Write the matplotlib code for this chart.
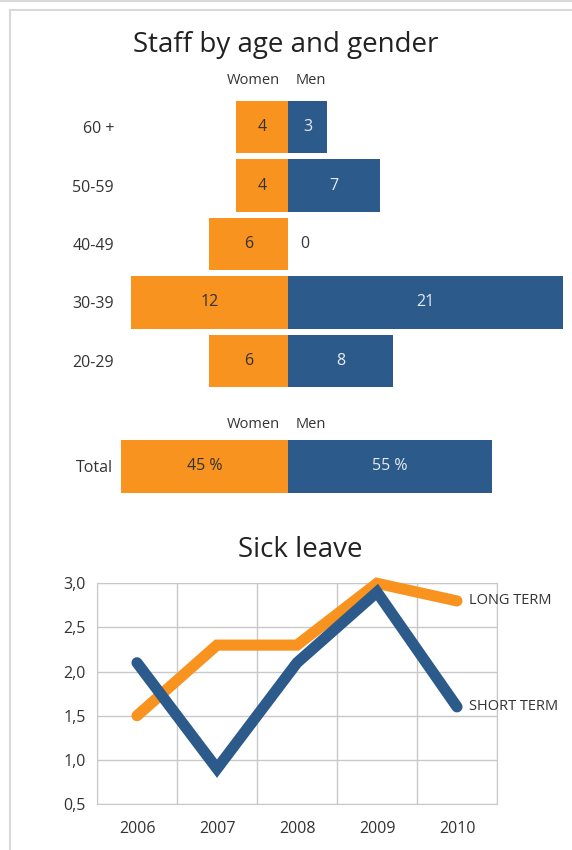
import matplotlib
matplotlib.use("Agg")
import matplotlib.pyplot as plt
from matplotlib.lines import Line2D
import numpy as np

plt.rcParams['font.family'] = ['Open Sans', 'DejaVu Sans']

# data
age_groups = ['20-29', '30-39', '40-49', '50-59', '60 +']
women = [6, 12, 6, 4, 4]
men = [8, 21, 0, 7, 3]
total_women = 45
total_men = 55

years = ['2006', '2007', '2008', '2009', '2010']
long_term = [1.5, 2.3, 2.3, 3.0, 2.8]
short_term = [2.1, 0.9, 2.1, 2.9, 1.6]

ORANGE = '#F7931E'
BLUE = '#2C5A8A'
DARK = '#333333'
GRID = '#C8C8C8'

W, H = 572, 850
fig = plt.figure(figsize=(W / 100, H / 100), dpi=100)


def px_rect(l, t, r, b):
    return [l / W, 1 - b / H, (r - l) / W, (b - t) / H]


def fig_line(x0, y0, x1, y1):
    fig.add_artist(Line2D([x0 / W, x1 / W], [1 - y0 / H, 1 - y1 / H],
                          transform=fig.transFigure, color='#D9D9D9', lw=1.5))


# frame lines
fig_line(0, 1, W, 1)
fig_line(9.5, 9.5, W, 9.5)
fig_line(9.5, 9.5, 9.5, H)

# --- pyramid ---
center = 288
scale = 13.1
ax1 = fig.add_axes(px_rect(121, 95, 572, 393))
ax1.set_xlim((121 - center) / scale, (572 - center) / scale)
ax1.set_ylim(-0.55, 4.55)
pos = np.arange(len(age_groups))
ax1.barh(pos, [-w for w in women], height=0.9, color=ORANGE)
ax1.barh(pos, men, height=0.9, color=BLUE)
for p, w, m in zip(pos, women, men):
    ax1.text(-w / 2, p, str(w), ha='center', va='center', fontsize=11.5, color=DARK)
    if m > 0:
        ax1.text(m / 2, p, str(m), ha='center', va='center', fontsize=11.5, color='#E6ECF3')
    else:
        ax1.text(1.3, p, str(m), ha='center', va='center', fontsize=11.5, color=DARK)
ax1.set_yticks(pos)
ax1.set_yticklabels(age_groups, fontsize=11.5, color=DARK)
ax1.tick_params(axis='y', length=0, pad=5)
ax1.set_xticks([])
for s in ax1.spines.values():
    s.set_visible(False)

# --- total ---
tscale = 3.71
ax2 = fig.add_axes(px_rect(121, 436, 572, 497))
ax2.set_xlim((121 - center) / tscale, (572 - center) / tscale)
ax2.set_ylim(-0.58, 0.58)
ax2.barh([0], [-total_women], height=1.0, color=ORANGE)
ax2.barh([0], [total_men], height=1.0, color=BLUE)
ax2.text(-total_women / 2, 0, f'{total_women} %', ha='center', va='center', fontsize=11.5, color=DARK)
ax2.text(total_men / 2, 0, f'{total_men} %', ha='center', va='center', fontsize=11.5, color='#E6ECF3')
ax2.set_yticks([0])
ax2.set_yticklabels(['Total'], fontsize=11.5, color=DARK)
ax2.tick_params(axis='y', length=0, pad=6)
ax2.set_xticks([])
for s in ax2.spines.values():
    s.set_visible(False)

# headers
fig.text(285.5 / W, 1 - 45 / H, 'Staff by age and gender', ha='center', va='center',
         fontsize=20, color='#222222')
for yy in (80, 425):
    fig.text(280 / W, 1 - yy / H, 'Women', ha='right', va='center', fontsize=10.5, color=DARK)
    fig.text(296 / W, 1 - yy / H, 'Men', ha='left', va='center', fontsize=10.5, color=DARK)

# --- sick leave ---
fig.text(300 / W, 1 - 550 / H, 'Sick leave', ha='center', va='center',
         fontsize=20, color='#222222')
ax3 = fig.add_axes(px_rect(97, 583.3, 497, 804))
x = np.arange(len(years))
ax3.set_xlim(-0.5, 4.5)
ax3.set_ylim(0.5, 3.0)
ax3.set_yticks(np.arange(0.5, 3.01, 0.5))
ax3.set_yticklabels([f'{v:.1f}'.replace('.', ',') for v in np.arange(0.5, 3.01, 0.5)],
                    fontsize=11.5, color=DARK)
ax3.set_xticks(x)
ax3.set_xticklabels(years, fontsize=11.5, color=DARK)
ax3.set_xticks(np.arange(-0.5, 4.6, 1), minor=True)
ax3.tick_params(which='both', length=0)
ax3.tick_params(axis='y', pad=8)
ax3.tick_params(axis='x', pad=12)
ax3.grid(True, axis='y', which='major', color=GRID, lw=1)
ax3.grid(True, axis='x', which='minor', color=GRID, lw=1)
for s in ax3.spines.values():
    s.set_color(GRID)
ax3.set_axisbelow(True)
ax3.plot(x, long_term, color=ORANGE, lw=8, solid_capstyle='round',
         solid_joinstyle='miter', clip_on=False, zorder=3)
ax3.plot(x, short_term, color=BLUE, lw=8, solid_capstyle='round',
         solid_joinstyle='miter', clip_on=False, zorder=4)
ax3.text(4.15, long_term[-1], 'LONG TERM', ha='left', va='center', fontsize=10.5, color=DARK)
ax3.text(4.15, short_term[-1], 'SHORT TERM', ha='left', va='center', fontsize=10.5, color=DARK)

fig.savefig('out.png', dpi=100)
